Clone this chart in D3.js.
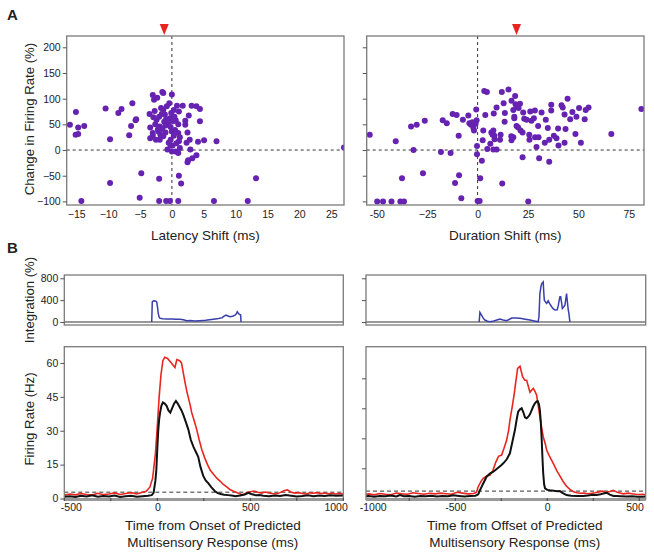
<!DOCTYPE html>
<html><head><meta charset="utf-8">
<script src="https://cdn.jsdelivr.net/npm/d3@7"></script>
<style>body{margin:0;background:#fff}svg{display:block}text{font-family:"Liberation Sans",Arial,Helvetica,sans-serif;fill:#222}</style>
</head><body><svg id="c" width="654" height="554"></svg>
<script>
// ---------- DATA ----------
const latencyPoints = [[-16.0,49],[-15.05,74],[-14.7,44],[-15.1,30],[-14.7,31],[-13.75,47],[-14.2,-99],[-10.4,81],[-9.7,21],[-9.7,-64],[-8.4,72],[-7.9,80],[-6.2,91],[-6.7,29],[-6.4,47],[-5.7,58],[-5.6,60],[-4.8,-45],[-5.05,-93],[-3.5,70],[-3.0,107],[-2.8,98],[-2.3,102],[-3.4,44],[-3.0,33],[-3.0,28],[-3.4,23],[-2.7,76],[-2.0,-56],[-2.0,-99],[-1.5,113],[-1.35,111],[0,108],[-2.4,59],[-2.0,65],[-1.7,82],[-1.35,78],[-1.1,69],[-0.8,85],[-0.4,91],[-1.9,46],[-1.5,41],[-2.1,36],[-1.9,20],[-1.35,27],[-1.0,34],[-0.6,52],[-0.3,62],[0,36],[-0.2,20],[-0.2,9],[0.1,9],[-0.7,1],[0,-3],[-0.9,-99],[-0.3,-99],[1.0,-99],[0.6,-3],[1.0,-6],[0.3,78],[0.8,86],[1.7,86],[1.1,75],[0.6,58],[1.0,50],[0.5,39],[1.0,33],[1.25,25],[1.1,17],[1.25,4],[1.1,-50],[1.45,-65],[2.1,57],[2.1,49],[2.65,67],[2.45,34],[2.8,20],[2.3,14],[3.1,86],[3.85,85],[4.4,80],[4.4,56],[4.1,16],[5.05,19],[7.0,17],[2.9,1],[3.2,-16],[3.85,-10],[2.55,-20],[2.45,-24],[6.6,-99],[11.9,-99],[13.2,-55],[27.0,5],[-2.6,50],[-1.2,55],[-0.9,60],[-0.2,45],[0.3,28],[-1.6,70],[-2.2,40],[-0.5,14],[0.4,65],[-1.0,48],[0.2,56],[-2.5,20],[-1.8,30],[0.7,13],[-0.1,72],[-2.9,64]];
const durationPoints = [[-53.5,30],[-49.8,-100],[-46.9,-100],[-42.7,-100],[-38.3,-100],[-36.5,-100],[-40.6,17],[-37.5,-55],[-31.8,0],[-33.0,46],[-30.2,49],[-26.2,57],[-27.1,-45],[-17.3,58],[-15.3,52],[-18.2,-4],[-13.4,-6],[-12.4,70],[-10.4,68],[-9.4,28],[-9.2,-49],[-11.2,-64],[-8.1,-94],[-7.3,59],[-4.6,67],[-4.1,52],[-3.3,49],[-2.6,54],[-2.1,43],[-1.8,38],[-1.0,51],[-0.5,58],[-0.7,79],[-0.3,8],[-0.3,-8],[0,-99],[1.0,-99],[1.3,-55],[2.1,-21],[3.3,115],[4.6,113],[3.8,68],[2.8,38],[2.5,19],[4.8,2],[6.3,12],[6.8,34],[7.8,38],[7.4,30],[8.3,28],[8.4,21],[7.8,1],[9.4,1],[8.0,71],[9.4,83],[11.4,30],[11.1,20],[12.2,-65],[12.0,113],[12.9,91],[13.5,72],[13.4,55],[15.3,118],[16.7,27],[16.8,19],[17.7,25],[16.8,96],[17.7,78],[18.2,65],[18.6,105],[18.8,89],[19.3,86],[18.2,62],[19.3,47],[20.1,44],[21.0,90],[20.3,82],[21.3,38],[22.3,34],[22.3,-14],[22.6,73],[23.1,61],[24.3,59],[25.1,-100],[25.6,30],[25.7,20],[26.1,75],[26.7,57],[27.9,62],[28.4,77],[28.5,25],[29.2,6],[30.0,47],[30.5,-16],[30.2,25],[31.7,73],[33.3,14],[33.8,59],[34.8,43],[35.5,20],[35.5,-23],[36.5,88],[36.5,77],[37.8,28],[39.1,23],[39.9,42],[40.1,9],[41.6,87],[42.2,83],[43.1,14],[43.1,69],[43.6,41],[44.6,100],[45.9,60],[47.0,74],[48.5,31],[49.0,65],[50.3,82],[51.2,14],[53.1,60],[53.6,78],[55.0,83],[66.3,31],[81.2,80]];
const latencyMean = -1.2;
const durationMean = 19.3;

const onsetIntegration = [[-30,0],[-27,369],[-20,387],[-10,385],[-3,369],[2,250],[5,158],[10,90],[15,67],[30,58],[50,55],[80,55],[100,50],[122,52],[140,40],[158,24],[180,26],[200,20],[229,24],[260,30],[280,40],[301,52],[330,65],[350,80],[355,97],[369,127],[380,110],[391,97],[405,105],[418,127],[425,150],[430,188],[436,160],[441,139],[448,130],[450,0]];
const offsetIntegration = [[-370,0],[-366,176],[-357,127],[-348,70],[-339,36],[-325,15],[-311,6],[-290,20],[-270,40],[-257,52],[-240,35],[-221,24],[-205,50],[-193,73],[-170,72],[-148,67],[-120,50],[-94,36],[-70,20],[-49,6],[-45,100],[-40,521],[-34,650],[-30,703],[-22,733],[-19,550],[-16,400],[-8,360],[-3,340],[5,387],[14,330],[24,279],[33,240],[42,218],[54,224],[60,300],[65,400],[69,461],[73,461],[78,350],[82,249],[90,280],[96,309],[100,400],[105,521],[110,350],[114,224],[118,150],[123,0]];

const onsetMulti = [[-500,1.5],[-470,2],[-440,1.6],[-410,2.2],[-380,1.8],[-350,1.5],[-320,2.3],[-290,1.7],[-260,2.0],[-230,2.5],[-200,1.8],[-170,2.2],[-140,2.6],[-110,2.0],[-80,2.8],[-60,3.2],[-40,5],[-25,9],[-10,20],[0,32],[10,45],[20,55],[30,61],[40,62.5],[55,62],[70,60.5],[85,59],[95,58],[105,61.5],[120,61],[130,60],[140,55.5],[150,51],[160,47],[175,42],[185,38],[200,34],[212,30.5],[225,26],[240,21.5],[255,18],[270,15],[285,12.5],[300,11],[320,9],[340,7.5],[355,6.2],[375,5],[390,4],[410,3.2],[430,2.5],[450,1.9],[465,1.8],[480,2.6],[500,3.0],[520,3.3],[540,2.8],[560,2.4],[580,2.9],[600,2.5],[620,2.2],[640,2.0],[660,2.6],[680,3.4],[700,3.8],[720,2.8],[740,2.4],[760,2.6],[780,2.2],[800,2.0],[820,2.5],[840,2.3],[860,2.6],[880,2.2],[900,2.4],[920,2.1],[940,2.3],[960,2.0],[980,2.2],[1000,2.0]];
const onsetPredicted = [[-500,0.8],[-470,1.0],[-440,0.7],[-410,1.2],[-380,0.9],[-350,1.4],[-320,0.8],[-290,1.1],[-260,0.9],[-230,1.3],[-200,0.7],[-170,1.0],[-140,1.2],[-110,0.8],[-80,1.0],[-50,1.2],[-30,1.5],[-20,2.5],[-10,8],[-5,13],[0,22],[5,30],[10,35],[15,38],[22,41],[30,42.5],[40,42],[50,41],[60,39],[70,38],[80,40],[90,42],[100,43.2],[110,42],[120,40.5],[130,39],[140,37],[155,33.5],[167,30.5],[180,26],[194,23],[205,21],[220,18.5],[232,14],[247,10],[260,8],[274,6.8],[290,5],[310,3.2],[325,2.4],[340,2.0],[360,1.7],[380,1.5],[400,1.3],[420,1.0],[445,1.3],[470,1.8],[490,2.5],[505,2.0],[530,1.4],[550,1.5],[570,1.2],[600,1.0],[630,1.3],[660,1.1],[690,1.5],[720,1.2],[750,0.9],[780,1.1],[810,1.4],[840,1.0],[870,1.3],[900,1.1],[930,1.4],[960,1.2],[1000,1.3]];
const offsetMulti = [[-1000,1.8],[-970,2.2],[-940,1.7],[-910,2.4],[-880,2.0],[-850,1.8],[-820,2.6],[-790,2.2],[-760,2.0],[-730,2.8],[-700,2.4],[-670,2.0],[-640,2.5],[-610,2.2],[-580,2.6],[-550,2.3],[-520,2.0],[-490,3.0],[-460,2.6],[-430,2.2],[-400,2.4],[-385,3.0],[-375,5.8],[-360,8.5],[-348,10],[-330,11],[-311,11.6],[-295,14],[-280,18],[-265,21],[-248,21.6],[-235,25],[-221,29],[-210,34],[-203,39],[-190,46],[-179,52.5],[-170,59],[-161,65],[-148,66],[-140,63],[-134,60.8],[-122,59],[-112,59],[-103,56],[-94,53],[-85,54],[-76,55],[-67,53.5],[-58,51.6],[-50,47],[-40,40.8],[-30,35],[-22,30.8],[-10,27],[-3,24],[10,21.5],[24,19],[38,16.5],[51,14],[70,11],[87,8.3],[105,6],[123,4.5],[140,3.4],[160,2.8],[180,2.5],[200,2.6],[220,2.3],[240,2.5],[260,2.8],[280,3.2],[300,3.6],[320,3.0],[340,3.4],[359,4.0],[380,3.0],[400,2.5],[413,2.2],[440,2.6],[460,2.3],[480,2.0],[500,1.9],[520,2.0],[535,1.8]];
const offsetPredicted = [[-1000,0.9],[-970,1.1],[-940,0.8],[-910,1.2],[-880,1.0],[-850,1.4],[-820,0.9],[-800,1.6],[-780,1.0],[-750,1.1],[-720,0.8],[-690,1.2],[-660,1.0],[-630,1.3],[-600,0.9],[-570,1.1],[-540,1.0],[-510,1.5],[-480,1.2],[-450,0.9],[-420,1.1],[-390,1.3],[-375,2],[-366,4],[-350,7],[-330,10.8],[-310,12.5],[-293,13.3],[-270,15],[-250,16.5],[-239,17.5],[-220,19.5],[-203,22.5],[-190,28],[-176,34],[-165,40],[-158,43.3],[-148,44.5],[-139,45],[-130,43],[-121,40.5],[-112,40],[-103,40.8],[-94,42],[-85,44],[-76,46],[-67,47.5],[-58,48.5],[-52,48.6],[-45,47],[-40,44],[-35,38],[-30,29],[-26,20],[-22,12.5],[-17,7],[-12,5],[0,4.2],[15,4],[35,3.8],[55,3.5],[69,3.6],[85,2.6],[105,1.6],[130,1.3],[160,1.2],[196,1.2],[220,1.4],[250,1.8],[268,1.6],[290,2.0],[310,2.5],[323,2.8],[340,1.8],[360,1.2],[377,1.1],[400,1.0],[430,0.9],[460,1.0],[490,0.8],[520,0.8],[535,0.9]];
const onsetCriterion = 2.8, offsetCriterion = 3.6;

const scatterYTicks = [-100,-50,0,50,100,150,200];
const latencyTicks = [-15,-10,-5,0,5,10,15,20,25];
const durationTicks = [-50,-25,0,25,50,75];
const integrationTicks = [0,400,800];
const rateTicks = [0,15,30,45,60];
const onsetTicks = [-500,0,500,1000];
const offsetTicks = [-1000,-500,0,500];
const minorTimeStep = 250;

// ---------- DRAW ----------
const svg = d3.select("#c");
const frameCol = "#7a7a7a";
const tickFont = 10.5, titleFont = 13.5;
const minus = v => (v < 0 ? "\u2212" + Math.abs(v) : String(v));

function frame(g, x0, y0, x1, y1) {
  g.append("rect").attr("x", x0).attr("y", y0).attr("width", x1 - x0).attr("height", y1 - y0)
    .attr("fill", "none").attr("stroke", frameCol).attr("stroke-width", 1.3);
}
function yAxis(g, y, x0, ticks, labels, fmt) {
  const ax = d3.axisLeft(y).tickValues(ticks).tickSize(4).tickPadding(2)
    .tickFormat(labels ? fmt : () => "");
  const a = g.append("g").attr("transform", `translate(${x0},0)`).call(ax);
  a.select(".domain").remove();
  a.selectAll("line").attr("stroke", "#555");
  a.selectAll("text").attr("font-size", tickFont).style("fill", "#222");
}
function xLabels(g, x, y0, ticks, fmt, dy, clampL, clampR) {
  const ax = d3.axisBottom(x).tickValues(ticks).tickSize(0).tickPadding(dy).tickFormat(fmt);
  const a = g.append("g").attr("transform", `translate(0,${y0})`).call(ax);
  a.select(".domain").remove();
  a.selectAll("text").attr("font-size", tickFont).style("fill", "#222");
  if (clampL || clampR) {
    a.selectAll(".tick").each(function (d, i, n) {
      const t = d3.select(this).select("text");
      if (i === 0 && clampL) t.attr("text-anchor", "start").attr("x", -4);
      if (i === n.length - 1 && clampR) t.attr("text-anchor", "end").attr("x", 4);
    });
  }
}

// Panel A scatter
function scatter(xr, domainX, pts, xticks, mean, showYLabels, xtitle, fmtX) {
  const [x0, x1] = xr, y0 = 36, y1 = 205;
  const x = d3.scaleLinear().domain(domainX).range([x0, x1]);
  const y = d3.scaleLinear().domain([-107, 222]).range([y1, y0]);
  const g = svg.append("g");
  const clipId = "clip" + Math.round(x0);
  g.append("clipPath").attr("id", clipId).append("rect").attr("x", x0).attr("y", y0).attr("width", x1 - x0).attr("height", y1 - y0);
  g.append("line").attr("x1", x(0)).attr("x2", x(0)).attr("y1", y0).attr("y2", y1)
    .attr("stroke", "#333").attr("stroke-dasharray", "3,3").attr("stroke-width", 1);
  g.append("line").attr("x1", x0).attr("x2", x1).attr("y1", y(0)).attr("y2", y(0))
    .attr("stroke", "#333").attr("stroke-dasharray", "3,3").attr("stroke-width", 1);
  g.append("g").attr("clip-path", `url(#${clipId})`).selectAll("circle").data(pts).join("circle")
    .attr("cx", d => x(d[0])).attr("cy", d => y(d[1])).attr("r", 3).attr("fill", "#6622b0");
  frame(g, x0, y0, x1, y1);
  yAxis(g, y, x0, scatterYTicks, showYLabels, minus);
  xLabels(g, x, y1, xticks, fmtX, 6);
  const xm = x(mean);
  g.append("path").attr("d", `M${xm - 4.5},24 L${xm + 4.5},24 L${xm},35 Z`).attr("fill", "#e8251f");
  g.append("text").attr("x", (x0 + x1) / 2).attr("y", 240).attr("text-anchor", "middle").attr("font-size", titleFont).text(xtitle);
}
scatter([66.7, 344], [-16.5, 27], latencyPoints, latencyTicks, latencyMean, true, "Latency Shift (ms)", minus);
scatter([366.7, 644], [-55, 82.5], durationPoints, durationTicks, durationMean, false, "Duration Shift (ms)", v => (v === -50 ? "-50" : minus(v)));

// Panel B
function timePanels(xr, domainX, integ, multi, pred, crit, rateDomain, showLabels, xticks, t1, t2) {
  const [x0, x1] = xr;
  const x = d3.scaleLinear().domain(domainX).range([x0, x1]);
  const g = svg.append("g");
  // Integration
  const iy0 = 275, iy1 = 325;
  const yi = d3.scaleLinear().domain([-55, 860]).range([iy1, iy0]);
  g.append("line").attr("x1", x0).attr("x2", x1).attr("y1", yi(0)).attr("y2", yi(0)).attr("stroke", "#777").attr("stroke-width", 1.3);
  g.append("path").datum(integ).attr("fill", "none").attr("stroke", "#3a3fae").attr("stroke-width", 1.5)
    .attr("d", d3.line().x(d => x(d[0])).y(d => yi(d[1])));
  frame(g, x0, iy0, x1, iy1);
  yAxis(g, yi, x0, integrationTicks, showLabels, String);
  // Firing rate
  const fy0 = 346.7, fy1 = 499.5;
  const yf = d3.scaleLinear().domain(rateDomain).range([fy1, fy0]);
  const clipId = "fclip" + Math.round(x0);
  g.append("clipPath").attr("id", clipId).append("rect").attr("x", x0).attr("y", fy0).attr("width", x1 - x0).attr("height", fy1 - fy0);
  const cg = g.append("g").attr("clip-path", `url(#${clipId})`);
  cg.append("line").attr("x1", x0).attr("x2", x1).attr("y1", yf(crit)).attr("y2", yf(crit))
    .attr("stroke", "#333").attr("stroke-dasharray", "4,3").attr("stroke-width", 1);
  const ln = d3.line().x(d => x(d[0])).y(d => yf(d[1]));
  cg.append("path").datum(multi).attr("fill", "none").attr("stroke", "#e8251f").attr("stroke-width", 1.6).attr("d", ln);
  cg.append("path").datum(pred).attr("fill", "none").attr("stroke", "#111").attr("stroke-width", 2).attr("d", ln);
  frame(g, x0, fy0, x1, fy1);
  g.append("line").attr("x1", x0).attr("x2", x1).attr("y1", fy1).attr("y2", fy1).attr("stroke", "#999").attr("stroke-width", 3);
  const minor = d3.range(Math.ceil(domainX[0] / minorTimeStep) * minorTimeStep, domainX[1] + 1, minorTimeStep);
  g.selectAll(null).data(minor).join("line").attr("x1", d => x(d)).attr("x2", d => x(d))
    .attr("y1", fy1 - 1.5).attr("y2", fy1 + 1.5).attr("stroke", "#444").attr("stroke-width", 1);
  yAxis(g, yf, x0, rateTicks.filter(v => showLabels || v > 0), showLabels, String);
  xLabels(g, x, fy1, xticks, String, 4, true, true);
  const cx = (x0 + x1) / 2 + 9;
  g.append("text").attr("x", cx).attr("y", 530).attr("text-anchor", "middle").attr("font-size", titleFont).text(t1);
  g.append("text").attr("x", cx).attr("y", 547).attr("text-anchor", "middle").attr("font-size", titleFont).text(t2);
}
timePanels([64.3, 343.3], [-500, 1000], onsetIntegration, onsetMulti, onsetPredicted, onsetCriterion, [-0.44, 67.2], true, onsetTicks,
  "Time from Onset of Predicted", "Multisensory Response (ms)");
timePanels([366, 645.7], [-985, 535], offsetIntegration, offsetMulti, offsetPredicted, offsetCriterion, [-0.6, 75.8], false, offsetTicks,
  "Time from Offset of Predicted", "Multisensory Response (ms)");

function vTitle(x, y, t) {
  svg.append("text").attr("transform", `translate(${x},${y}) rotate(-90)`).attr("text-anchor", "middle").attr("font-size", 13.2).text(t);
}
vTitle(34, 119, "Change in Firing Rate (%)");
vTitle(34, 300, "Integration (%)");
vTitle(34, 419, "Firing Rate (Hz)");
svg.append("text").attr("x", 7).attr("y", 20).attr("font-size", 15).attr("font-weight", "bold").text("A");
svg.append("text").attr("x", 7).attr("y", 253).attr("font-size", 15).attr("font-weight", "bold").text("B");
</script></body></html>
